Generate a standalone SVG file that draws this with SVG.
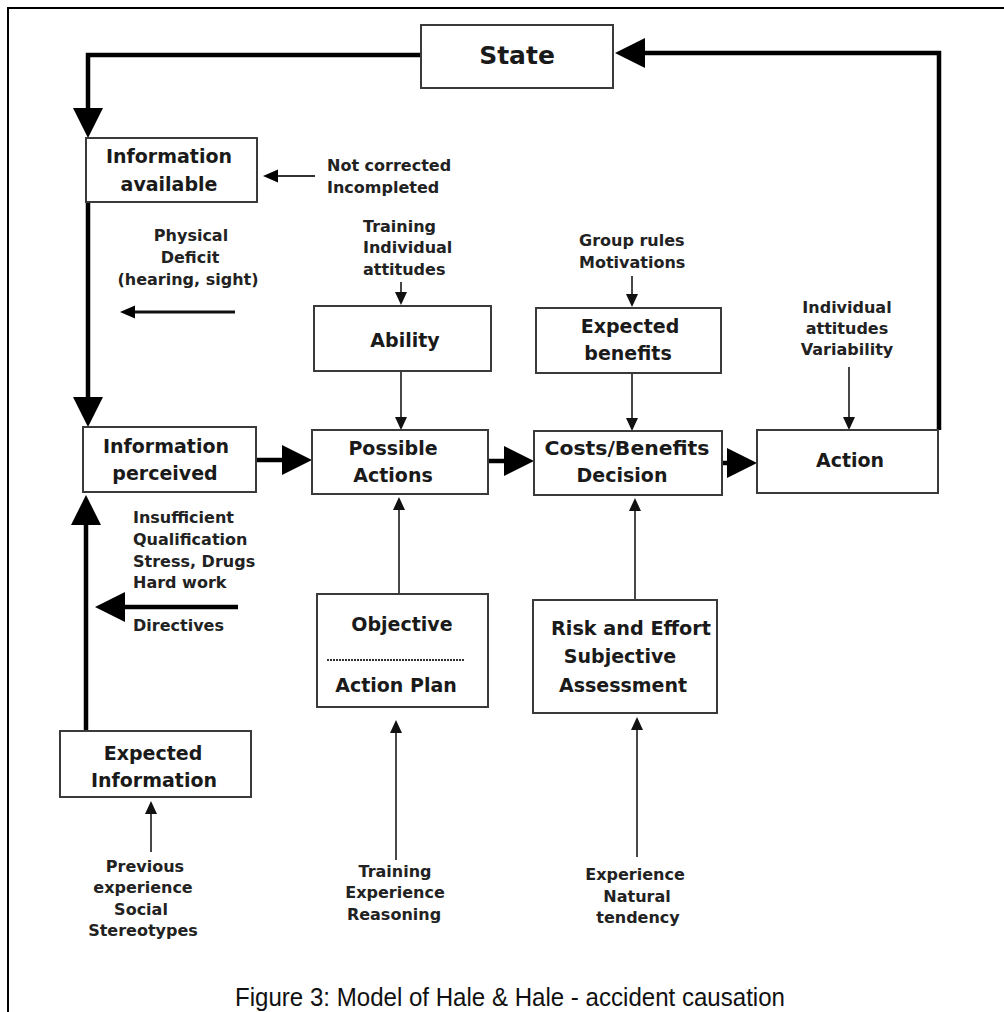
<svg xmlns="http://www.w3.org/2000/svg" width="1004" height="1012" viewBox="0 0 1004 1012">
<style>
.box{fill:#fff;stroke:#3a3a3a;stroke-width:2}
.bt{font-family:"DejaVu Sans","Liberation Sans",sans-serif;font-weight:bold;font-size:19px;fill:#1a1a1a;text-anchor:middle}
.st{font-size:25px}
.lb{font-family:"DejaVu Sans","Liberation Sans",sans-serif;font-weight:bold;font-size:16px;fill:#222}
.c{text-anchor:middle}
.thick{fill:none;stroke:#000;stroke-width:4.5}
.med{fill:none;stroke:#111;stroke-width:3}
.thin{fill:none;stroke:#333;stroke-width:1.8}
.cap{font-family:"Liberation Sans",Arial,sans-serif;font-size:26px;fill:#111}
</style>
<defs>
<marker id="big" markerUnits="userSpaceOnUse" markerWidth="32" markerHeight="30" refX="1" refY="15" orient="auto" overflow="visible">
<path d="M0,0 L30,15 L0,30 z" fill="#000"/>
</marker>
<marker id="mid" markerUnits="userSpaceOnUse" markerWidth="16" markerHeight="14" refX="1" refY="6.5" orient="auto" overflow="visible">
<path d="M0,0 L15,6.5 L0,13 z" fill="#000"/>
</marker>
<marker id="small" markerUnits="userSpaceOnUse" markerWidth="14" markerHeight="13" refX="1" refY="6" orient="auto" overflow="visible">
<path d="M0,0 L13,6 L0,12 z" fill="#111"/>
</marker>
</defs>
<rect width="1004" height="1012" fill="#fff"/>
<g id="frame" fill="none" stroke="#000" stroke-width="2">
<path d="M8,1012 V8 H1004"/>
</g>
<g id="connectors">
<path class="thick" d="M421,55 H88 V109" marker-end="url(#big)"/>
<path class="thick" d="M88,202 V398" marker-end="url(#big)"/>
<path class="thick" d="M939,430 V53 H644" marker-end="url(#big)"/>
<path class="thick" d="M86,731 V524" marker-end="url(#big)"/>
<path class="thick" d="M257,460 H283" marker-end="url(#big)"/>
<path class="thick" d="M488,461 H505" marker-end="url(#big)"/>
<path class="thick" d="M722,463 H728" marker-end="url(#big)"/>
<path class="thick" d="M238,607 H124" marker-end="url(#big)"/>
<path class="med" d="M235,312 H134" marker-end="url(#mid)"/>
<path class="thin" d="M315,176 H277" marker-end="url(#mid)"/>
<path class="thin" d="M401,282 V293" marker-end="url(#small)"/>
<path class="thin" d="M401,371 V418" marker-end="url(#small)"/>
<path class="thin" d="M632,276 V295" marker-end="url(#small)"/>
<path class="thin" d="M632,373 V419" marker-end="url(#small)"/>
<path class="thin" d="M849,367 V418" marker-end="url(#small)"/>
<path class="thin" d="M399,594 V509" marker-end="url(#small)"/>
<path class="thin" d="M635,600 V510" marker-end="url(#small)"/>
<path class="thin" d="M151,852 V813" marker-end="url(#small)"/>
<path class="thin" d="M396,860 V732" marker-end="url(#small)"/>
<path class="thin" d="M637,857 V729" marker-end="url(#small)"/>
</g>
<g id="state">
<rect class="box" x="421" y="25" width="192" height="63"/>
<text class="bt st" x="517" y="64">State</text>
</g>
<g id="info_available">
<rect class="box" x="86" y="138" width="171" height="64"/>
<text class="bt" x="169" y="163">Information</text>
<text class="bt" x="169" y="191">available</text>
</g>
<g id="info_perceived">
<rect class="box" x="83" y="427" width="173" height="65"/>
<text class="bt" x="166" y="453">Information</text>
<text class="bt" x="165" y="480">perceived</text>
</g>
<g id="expected_information">
<rect class="box" x="60" y="731" width="191" height="66"/>
<text class="bt" x="153" y="760">Expected</text>
<text class="bt" x="154" y="787">Information</text>
</g>
<g id="ability">
<rect class="box" x="314" y="306" width="177" height="65"/>
<text class="bt" x="405" y="347">Ability</text>
</g>
<g id="possible_actions">
<rect class="box" x="312" y="430" width="176" height="64"/>
<text class="bt" x="393" y="455">Possible</text>
<text class="bt" x="393" y="482">Actions</text>
</g>
<g id="expected_benefits">
<rect class="box" x="536" y="308" width="185" height="65"/>
<text class="bt" x="630" y="333">Expected</text>
<text class="bt" x="628" y="360">benefits</text>
</g>
<g id="costs_benefits">
<rect class="box" x="534" y="431" width="188" height="64"/>
<text class="bt" x="627" y="455" textLength="165" lengthAdjust="spacingAndGlyphs">Costs/Benefits</text>
<text class="bt" x="622" y="482">Decision</text>
</g>
<g id="action">
<rect class="box" x="757" y="430" width="181" height="63"/>
<text class="bt" x="850" y="467">Action</text>
</g>
<g id="objective_action_plan">
<rect class="box" x="317" y="594" width="171" height="113"/>
<text class="bt" x="402" y="631">Objective</text>
<line x1="327" y1="660" x2="465" y2="660" stroke="#333" stroke-width="2.2" stroke-dasharray="2,1"/>
<text class="bt" x="396" y="692">Action Plan</text>
</g>
<g id="risk_effort">
<rect class="box" x="533" y="600" width="184" height="113"/>
<text class="bt" x="631" y="635" textLength="160" lengthAdjust="spacingAndGlyphs">Risk and Effort</text>
<text class="bt" x="620" y="663">Subjective</text>
<text class="bt" x="623" y="692">Assessment</text>
</g>
<g id="labels">
<text class="lb" x="327" y="171">Not corrected</text>
<text class="lb" x="327" y="193">Incompleted</text>
<text class="lb c" x="191" y="241">Physical</text>
<text class="lb c" x="190" y="263">Deficit</text>
<text class="lb c" x="188" y="285">(hearing, sight)</text>
<text class="lb" x="363" y="232">Training</text>
<text class="lb" x="363" y="253">Individual</text>
<text class="lb" x="363" y="275">attitudes</text>
<text class="lb" x="579" y="246">Group rules</text>
<text class="lb" x="579" y="268">Motivations</text>
<text class="lb c" x="847" y="313">Individual</text>
<text class="lb c" x="847" y="334">attitudes</text>
<text class="lb c" x="847" y="355">Variability</text>
<text class="lb" x="133" y="523">Insufficient</text>
<text class="lb" x="133" y="545">Qualification</text>
<text class="lb" x="133" y="567">Stress, Drugs</text>
<text class="lb" x="133" y="588">Hard work</text>
<text class="lb" x="133" y="631">Directives</text>
<text class="lb c" x="145" y="872">Previous</text>
<text class="lb c" x="143" y="893">experience</text>
<text class="lb c" x="141" y="915">Social</text>
<text class="lb c" x="143" y="936">Stereotypes</text>
<text class="lb c" x="395" y="877">Training</text>
<text class="lb c" x="395" y="898">Experience</text>
<text class="lb c" x="394" y="920">Reasoning</text>
<text class="lb c" x="635" y="880">Experience</text>
<text class="lb c" x="637" y="902">Natural</text>
<text class="lb c" x="638" y="923">tendency</text>
</g>
<text class="cap" x="235" y="1006" textLength="550" lengthAdjust="spacingAndGlyphs">Figure 3: Model of Hale &amp; Hale - accident causation</text>
</svg>
